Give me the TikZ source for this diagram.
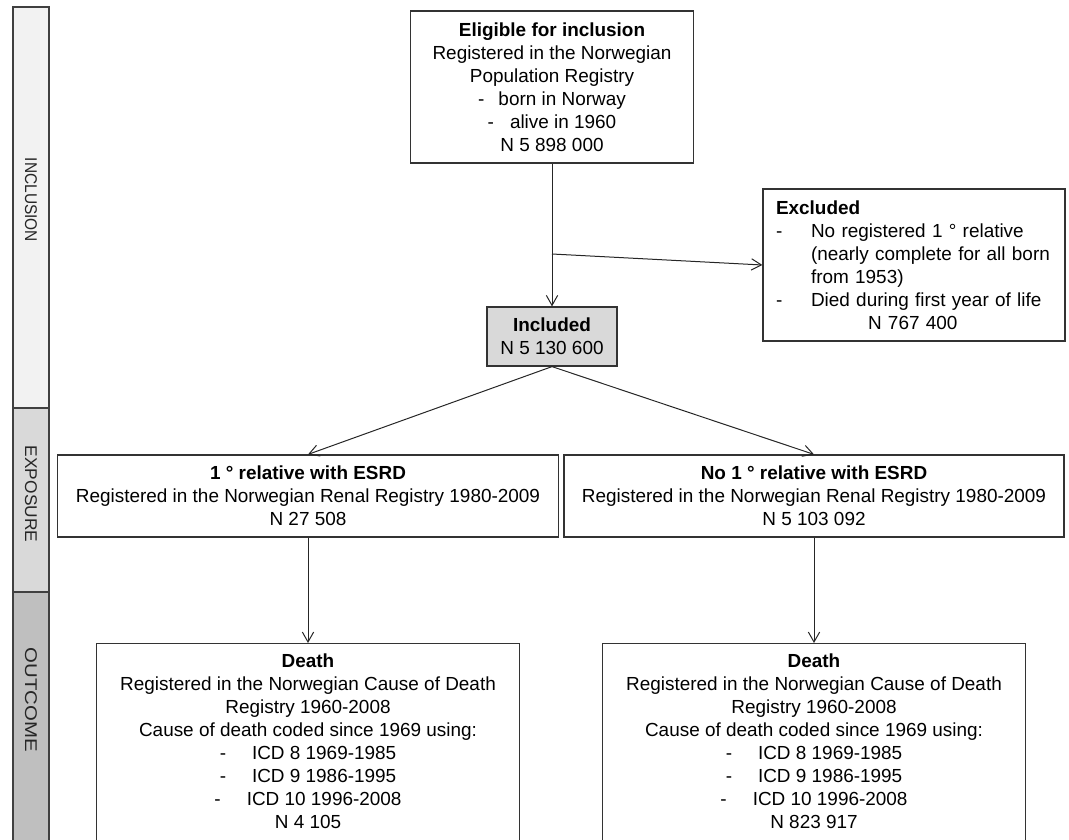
\documentclass[tikz,border=0pt]{standalone}
\usepackage{fontspec}
\usepackage{graphicx}
\setmainfont{Liberation Sans}
\usetikzlibrary{arrows.meta}
\newlength\pxu
\setlength\pxu{0.75pt}
\newcommand\mfont{\fontsize{14.2pt}{17.25pt}\selectfont}
\newcommand\sidefont{\fontsize{12.75pt}{14pt}\selectfont}
\definecolor{incfill}{HTML}{F2F2F2}
\definecolor{expfill}{HTML}{D9D9D9}
\definecolor{outfill}{HTML}{BFBFBF}
\definecolor{inclbox}{HTML}{D9D9D9}
\tikzset{
  box/.style={draw=black!80, line width=0.9pt, fill=white, align=center, inner sep=0pt, font=\mfont},
  arr/.style={draw=black!85, line width=0.75pt, -{Straight Barb[length=7.5pt,width=8.5pt]}},
  side/.style={draw=black!75, line width=0.9pt},
  sidelbl/.style={rotate=-90, font=\sidefont, text=black!85, inner sep=0pt}
}
\begin{document}
\begin{tikzpicture}[x=0.75pt, y=-0.75pt]
\useasboundingbox (0,0) rectangle (1069,839);
\clip (0,0) rectangle (1069,839);
% sidebar
\draw[side, fill=incfill] (13,7) rectangle (49,408);
\draw[side, fill=expfill] (13,408) rectangle (49,592);
\draw[side, fill=outfill] (13,592) rectangle (49,845);
\node[sidelbl] (lincl) at (31,200) {\scalebox{0.91}[1]{INCLUSION}};
\node[sidelbl] (lexp) at (31,494) {\scalebox{1.02}[1]{EXPOSURE}};
\node[sidelbl] (lout) at (31,700) {\scalebox{1.2}[1]{OUTCOME}};
% boxes
\node[box, minimum width=212.25pt, minimum height=114pt] (elig) at (552,87)
  {\textbf{Eligible for inclusion}\\
   Registered in the Norwegian\\
   Population Registry\\
   -\hspace{14\pxu}born in Norway\\
   -\hspace{16\pxu}alive in 1960\\
   N 5 898 000};
\node[box, minimum width=226.5pt, minimum height=114pt, text width=207pt, align=left] (excl) at (914,265)
  {\textbf{Excluded}\\
   \makebox[35\pxu][l]{-}No registered 1 ° relative\\
   \hspace*{35\pxu}(nearly complete for all born\\
   \hspace*{35\pxu}from 1953)\\
   \makebox[35\pxu][l]{-}Died during first year of life\\
   \hspace*{92\pxu}N 767 400};
\node[box, fill=inclbox, minimum width=97.5pt, minimum height=44.25pt] (incl) at (552,336.5)
  {\textbf{Included}\\N 5 130 600};
\node[box, minimum width=375.75pt, minimum height=61.5pt] (exp1) at (308,496)
  {\textbf{1 ° relative with ESRD}\\
   Registered in the Norwegian Renal Registry 1980-2009\\
   N 27 508};
\node[box, minimum width=375pt, minimum height=61.5pt] (exp2) at (814,496)
  {\textbf{No 1 ° relative with ESRD}\\
   Registered in the Norwegian Renal Registry 1980-2009\\
   N 5 103 092};
\node[box, anchor=north, minimum width=317.25pt, inner ysep=7.6pt, text depth=30pt] (death1) at (308,643)
  {\textbf{Death}\\
   Registered in the Norwegian Cause of Death\\
   Registry 1960-2008\\
   Cause of death coded since 1969 using:\\
   -\hspace{26\pxu}ICD 8 1969-1985\\
   -\hspace{26\pxu}ICD 9 1986-1995\\
   -\hspace{26\pxu}ICD 10 1996-2008\\
   N 4 105};
\node[box, anchor=north, minimum width=317.25pt, inner ysep=7.6pt, text depth=30pt] (death2) at (814,643)
  {\textbf{Death}\\
   Registered in the Norwegian Cause of Death\\
   Registry 1960-2008\\
   Cause of death coded since 1969 using:\\
   -\hspace{26\pxu}ICD 8 1969-1985\\
   -\hspace{26\pxu}ICD 9 1986-1995\\
   -\hspace{26\pxu}ICD 10 1996-2008\\
   N 823 917};
% connectors
\coordinate (br) at (552,254);
\draw[arr] (elig.south) -- (incl.north);
\draw[arr] (br) -- (excl.west);
\draw[arr] (incl.south) -- (exp1.north);
\draw[arr] (incl.south) -- (exp2.north);
\draw[arr] (exp1.south) -- (death1.north);
\draw[arr] (exp2.south) -- (death2.north);
\end{tikzpicture}
\end{document}
